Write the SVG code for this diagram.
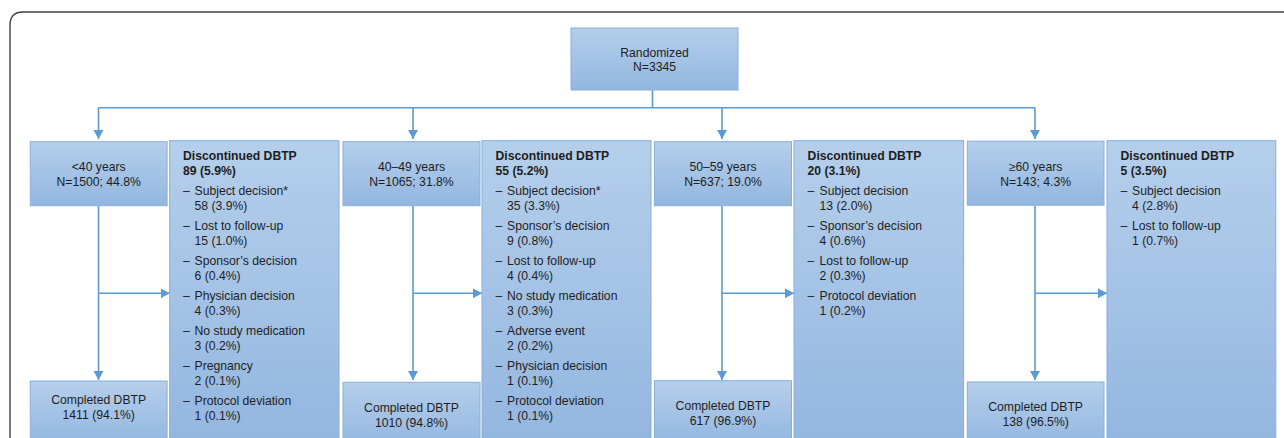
<svg xmlns="http://www.w3.org/2000/svg" width="1284" height="438" viewBox="0 0 1284 438">
<defs>
<linearGradient id="g" x1="0" y1="0" x2="0" y2="1">
<stop offset="0" stop-color="#b5cfeb"/>
<stop offset="1" stop-color="#93b6e0"/>
</linearGradient>
<marker id="ah" viewBox="0 0 9 10" refX="9" refY="5" markerWidth="9" markerHeight="10" markerUnits="userSpaceOnUse" orient="auto">
<path d="M0,0 L9,5 L0,10 z" fill="#5b9bd5"/>
</marker>
<style>
.box{fill:url(#g);stroke:#86afdd;stroke-width:1}
text{font-family:"Liberation Sans",Arial,sans-serif;font-size:12.2px;fill:#1e1e1e}
.c{text-anchor:middle}
.b{font-weight:bold}
.ln{fill:none;stroke:#5b9bd5;stroke-width:1.6}
.ar{fill:none;stroke:#5b9bd5;stroke-width:1.6;marker-end:url(#ah)}
</style>
</defs>
<rect width="1284" height="438" fill="#ffffff"/>
<path d="M10,445 L10,25 Q10,12 23,12 L1290,12" fill="none" stroke="#404040" stroke-width="1.4"/>

<g id="connectors">
<line class="ln" x1="652.5" y1="90" x2="652.5" y2="107.7"/>
<line class="ln" x1="98.5" y1="107.7" x2="1035" y2="107.7"/>
<line class="ar" x1="98.5" y1="107.7" x2="98.5" y2="139"/>
<line class="ar" x1="413" y1="107.7" x2="413" y2="139"/>
<line class="ar" x1="722" y1="107.7" x2="722" y2="139"/>
<line class="ar" x1="1035" y1="107.7" x2="1035" y2="139"/>
<line class="ar" x1="98.5" y1="205.7" x2="98.5" y2="380"/>
<line class="ar" x1="413" y1="205.7" x2="413" y2="380"/>
<line class="ar" x1="722" y1="205.7" x2="722" y2="380"/>
<line class="ar" x1="1035" y1="205.7" x2="1035" y2="380"/>
<line class="ar" x1="98.5" y1="293.3" x2="169.7" y2="293.3"/>
<line class="ar" x1="413" y1="293.3" x2="482" y2="293.3"/>
<line class="ar" x1="722" y1="293.3" x2="794" y2="293.3"/>
<line class="ar" x1="1035" y1="293.3" x2="1107" y2="293.3"/>
</g>

<g id="randomized">
<rect class="box" x="571" y="28" width="167" height="62"/>
<text class="c" x="654.5" y="56.7">Randomized</text>
<text class="c" x="654.5" y="71">N=3345</text>
</g>

<g id="age-lt40">
<rect class="box" x="30.3" y="141.7" width="136.8" height="64"/>
<text class="c" x="98.7" y="171">&lt;40 years</text>
<text class="c" x="98.7" y="186">N=1500; 44.8%</text>
</g>
<g id="age-40-49">
<rect class="box" x="343" y="141.7" width="137" height="64"/>
<text class="c" x="411.5" y="171">40–49 years</text>
<text class="c" x="411.5" y="186">N=1065; 31.8%</text>
</g>
<g id="age-50-59">
<rect class="box" x="654.4" y="141.7" width="137.1" height="64"/>
<text class="c" x="723" y="171">50–59 years</text>
<text class="c" x="723" y="186">N=637; 19.0%</text>
</g>
<g id="age-ge60">
<rect class="box" x="967.3" y="141.2" width="136.7" height="64"/>
<text class="c" x="1035.6" y="171">≥60 years</text>
<text class="c" x="1035.6" y="186">N=143; 4.3%</text>
</g>

<g id="disc-lt40">
<rect class="box" x="169.7" y="140.7" width="169.3" height="305"/>
<text class="b" x="183" y="160">Discontinued DBTP</text>
<text class="b" x="183" y="175">89 (5.9%)</text>
<text x="183" y="195.4">–<tspan x="194.5">Subject decision*</tspan></text>
<text x="194.5" y="210">58 (3.9%)</text>
<text x="183" y="230.4">–<tspan x="194.5">Lost to follow-up</tspan></text>
<text x="194.5" y="245">15 (1.0%)</text>
<text x="183" y="265.4">–<tspan x="194.5">Sponsor’s decision</tspan></text>
<text x="194.5" y="280">6 (0.4%)</text>
<text x="183" y="300.4">–<tspan x="194.5">Physician decision</tspan></text>
<text x="194.5" y="315">4 (0.3%)</text>
<text x="183" y="335.4">–<tspan x="194.5">No study medication</tspan></text>
<text x="194.5" y="350">3 (0.2%)</text>
<text x="183" y="370.4">–<tspan x="194.5">Pregnancy</tspan></text>
<text x="194.5" y="385">2 (0.1%)</text>
<text x="183" y="405.4">–<tspan x="194.5">Protocol deviation</tspan></text>
<text x="194.5" y="420">1 (0.1%)</text>
</g>

<g id="disc-40-49">
<rect class="box" x="482" y="140.7" width="169" height="305"/>
<text class="b" x="495.5" y="160">Discontinued DBTP</text>
<text class="b" x="495.5" y="175">55 (5.2%)</text>
<text x="495.5" y="195.4">–<tspan x="507">Subject decision*</tspan></text>
<text x="507" y="210">35 (3.3%)</text>
<text x="495.5" y="230.4">–<tspan x="507">Sponsor’s decision</tspan></text>
<text x="507" y="245">9 (0.8%)</text>
<text x="495.5" y="265.4">–<tspan x="507">Lost to follow-up</tspan></text>
<text x="507" y="280">4 (0.4%)</text>
<text x="495.5" y="300.4">–<tspan x="507">No study medication</tspan></text>
<text x="507" y="315">3 (0.3%)</text>
<text x="495.5" y="335.4">–<tspan x="507">Adverse event</tspan></text>
<text x="507" y="350">2 (0.2%)</text>
<text x="495.5" y="370.4">–<tspan x="507">Physician decision</tspan></text>
<text x="507" y="385">1 (0.1%)</text>
<text x="495.5" y="405.4">–<tspan x="507">Protocol deviation</tspan></text>
<text x="507" y="420">1 (0.1%)</text>
</g>

<g id="disc-50-59">
<rect class="box" x="794" y="140.7" width="169.6" height="305"/>
<text class="b" x="807.6" y="160">Discontinued DBTP</text>
<text class="b" x="807.6" y="175">20 (3.1%)</text>
<text x="807.6" y="195.4">–<tspan x="819.5">Subject decision</tspan></text>
<text x="819.5" y="210">13 (2.0%)</text>
<text x="807.6" y="230.4">–<tspan x="819.5">Sponsor’s decision</tspan></text>
<text x="819.5" y="245">4 (0.6%)</text>
<text x="807.6" y="265.4">–<tspan x="819.5">Lost to follow-up</tspan></text>
<text x="819.5" y="280">2 (0.3%)</text>
<text x="807.6" y="300.4">–<tspan x="819.5">Protocol deviation</tspan></text>
<text x="819.5" y="315">1 (0.2%)</text>
</g>

<g id="disc-ge60">
<rect class="box" x="1107" y="140.7" width="168.8" height="305"/>
<text class="b" x="1120.5" y="160">Discontinued DBTP</text>
<text class="b" x="1120.5" y="175">5 (3.5%)</text>
<text x="1120.5" y="195.4">–<tspan x="1132">Subject decision</tspan></text>
<text x="1132" y="210">4 (2.8%)</text>
<text x="1120.5" y="230.4">–<tspan x="1132">Lost to follow-up</tspan></text>
<text x="1132" y="245">1 (0.7%)</text>
</g>

<g id="completed-lt40">
<rect class="box" x="30.3" y="381" width="136.8" height="64"/>
<text class="c" x="98.7" y="404.4">Completed DBTP</text>
<text class="c" x="98.7" y="418.7">1411 (94.1%)</text>
</g>
<g id="completed-40-49">
<rect class="box" x="343" y="382.3" width="137" height="64"/>
<text class="c" x="411.5" y="411.7">Completed DBTP</text>
<text class="c" x="411.5" y="426.7">1010 (94.8%)</text>
</g>
<g id="completed-50-59">
<rect class="box" x="654.4" y="380.7" width="137.1" height="64"/>
<text class="c" x="723" y="410">Completed DBTP</text>
<text class="c" x="723" y="425.4">617 (96.9%)</text>
</g>
<g id="completed-ge60">
<rect class="box" x="967.3" y="382" width="136.7" height="64"/>
<text class="c" x="1035.6" y="411">Completed DBTP</text>
<text class="c" x="1035.6" y="426">138 (96.5%)</text>
</g>
</svg>
